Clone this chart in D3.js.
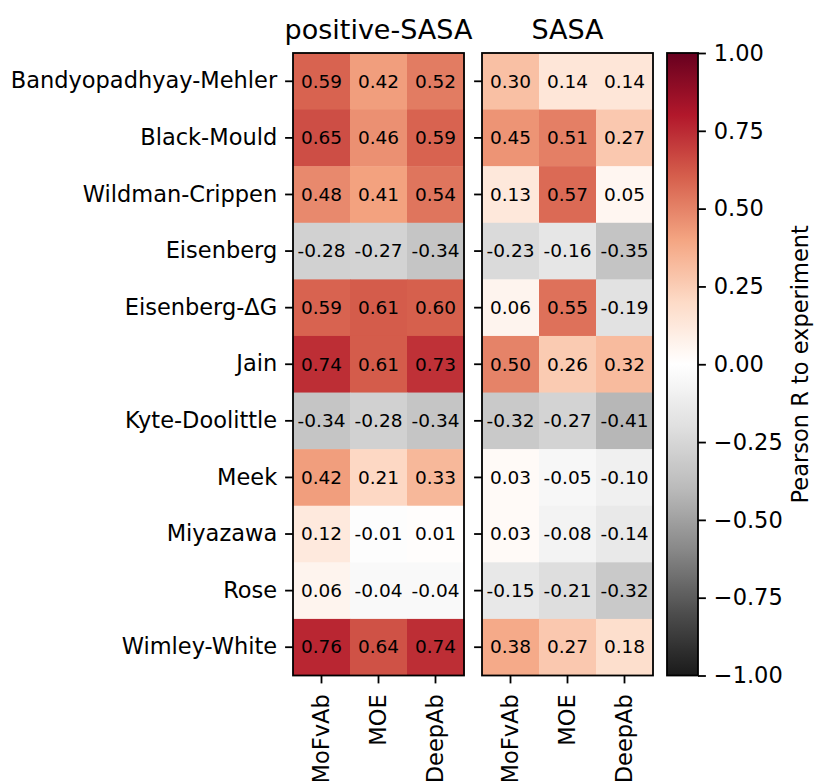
<!DOCTYPE html>
<html>
<head>
<meta charset="utf-8">
<script src="https://cdn.jsdelivr.net/npm/d3@7"></script>
<style>
  body { margin: 0; background: #fff; }
  svg text { font-family: "DejaVu Sans", sans-serif; fill: #000; }
</style>
</head>
<body>
<svg id="chart" width="814" height="781"></svg>
<script>
// Hydrophobicity scales (rows) and structure sources (columns)
const scales = ["Bandyopadhyay-Mehler", "Black-Mould", "Wildman-Crippen", "Eisenberg",
  "Eisenberg-ΔG", "Jain", "Kyte-Doolittle", "Meek", "Miyazawa", "Rose", "Wimley-White"];
const methods = ["MoFvAb", "MOE", "DeepAb"];
const panelTitles = ["positive-SASA", "SASA"];

// Pearson R for each scale, one triple per row (MoFvAb, MOE, DeepAb)
const positiveSasaR = [
  [0.59, 0.42, 0.52], [0.65, 0.46, 0.59], [0.48, 0.41, 0.54], [-0.28, -0.27, -0.34],
  [0.59, 0.61, 0.60], [0.74, 0.61, 0.73], [-0.34, -0.28, -0.34], [0.42, 0.21, 0.33],
  [0.12, -0.01, 0.01], [0.06, -0.04, -0.04], [0.76, 0.64, 0.74]
];
const sasaR = [
  [0.30, 0.14, 0.14], [0.45, 0.51, 0.27], [0.13, 0.57, 0.05], [-0.23, -0.16, -0.35],
  [0.06, 0.55, -0.19], [0.50, 0.26, 0.32], [-0.32, -0.27, -0.41], [0.03, -0.05, -0.10],
  [0.03, -0.08, -0.14], [-0.15, -0.21, -0.32], [0.38, 0.27, 0.18]
];
const colorbarTicks = [1.0, 0.75, 0.5, 0.25, 0.0, -0.25, -0.5, -0.75, -1.0];

// Reversed red-grey diverging palette
const rdgyStops = ["#1a1a1a", "#4d4d4d", "#878787", "#bababa", "#e0e0e0", "#ffffff",
  "#fddbc7", "#f4a582", "#d6604d", "#b2182b", "#67001f"];
const color = d3.scaleLinear()
  .domain(d3.range(rdgyStops.length).map(i => -1 + 2 * i / (rdgyStops.length - 1)))
  .range(rdgyStops)
  .interpolate(d3.interpolateRgb)
  .clamp(true);

const svg = d3.select("#chart");
const plotTop = 53, plotBottom = 675.5;
const panelX = [[293, 464], [482, 653]];
const tickLen = 7.9, tickPad = 7.9, lineW = 1.8;
const labelSize = 22.5, cellSize = 18.5, titleSize = 27;

const y = d3.scaleBand().domain(scales).range([plotTop, plotBottom]);

[positiveSasaR, sasaR].forEach((matrix, p) => {
  const x = d3.scaleBand().domain(methods).range(panelX[p]);
  const g = svg.append("g");

  const cells = [];
  matrix.forEach((row, i) => row.forEach((v, j) => cells.push({ s: scales[i], m: methods[j], v })));

  g.selectAll("rect.cell").data(cells).enter().append("rect")
    .attr("class", "cell")
    .attr("x", d => x(d.m))
    .attr("y", d => y(d.s))
    .attr("width", x.bandwidth() + 0.5)
    .attr("height", y.bandwidth() + 0.5)
    .attr("fill", d => color(d.v));

  g.selectAll("text.val").data(cells).enter().append("text")
    .attr("class", "val")
    .attr("x", d => x(d.m) + x.bandwidth() / 2)
    .attr("y", d => y(d.s) + y.bandwidth() / 2)
    .attr("text-anchor", "middle")
    .attr("dy", "0.34em")
    .attr("font-size", cellSize)
    .text(d => d.v.toFixed(2));

  // frame
  g.append("rect")
    .attr("x", panelX[p][0]).attr("y", plotTop)
    .attr("width", panelX[p][1] - panelX[p][0]).attr("height", plotBottom - plotTop)
    .attr("fill", "none").attr("stroke", "#000").attr("stroke-width", lineW);

  // left axis (labels only on the first panel)
  const yAxis = d3.axisLeft(y).tickSize(tickLen).tickPadding(tickPad)
    .tickFormat(p === 0 ? (d => d) : (() => ""));
  const ya = g.append("g").attr("transform", `translate(${panelX[p][0]},0)`).call(yAxis);
  ya.select(".domain").remove();
  ya.selectAll(".tick line").attr("stroke", "#000").attr("stroke-width", lineW);
  ya.selectAll(".tick text").attr("font-size", labelSize).attr("font-family", "DejaVu Sans");

  // bottom axis with rotated method names
  const xAxis = d3.axisBottom(x).tickSize(tickLen).tickPadding(tickPad);
  const xa = g.append("g").attr("transform", `translate(0,${plotBottom})`).call(xAxis);
  xa.select(".domain").remove();
  xa.selectAll(".tick line").attr("stroke", "#000").attr("stroke-width", lineW);
  xa.selectAll(".tick text")
    .attr("font-size", labelSize).attr("font-family", "DejaVu Sans")
    .attr("transform", "rotate(-90)")
    .attr("text-anchor", "end")
    .attr("x", -(tickLen + tickPad + 3)).attr("y", 0).attr("dy", "0.35em");

  g.append("text")
    .attr("x", (panelX[p][0] + panelX[p][1]) / 2)
    .attr("y", 39)
    .attr("text-anchor", "middle")
    .attr("font-size", titleSize)
    .text(panelTitles[p]);
});

// Colorbar
const cbX = 667, cbW = 31;
const cbScale = d3.scaleLinear().domain([-1, 1]).range([plotBottom, plotTop]);
const defs = svg.append("defs");
const grad = defs.append("linearGradient").attr("id", "cbgrad")
  .attr("x1", 0).attr("y1", 1).attr("x2", 0).attr("y2", 0);
d3.range(0, 1.0001, 0.02).forEach(t => {
  grad.append("stop").attr("offset", t).attr("stop-color", color(-1 + 2 * t));
});
svg.append("rect")
  .attr("x", cbX).attr("y", plotTop).attr("width", cbW).attr("height", plotBottom - plotTop)
  .attr("fill", "url(#cbgrad)").attr("stroke", "#000").attr("stroke-width", lineW);

const cbAxis = d3.axisRight(cbScale).tickValues(colorbarTicks).tickSize(tickLen).tickPadding(tickPad)
  .tickFormat(d => d3.format(".2f")(d).replace("-", "\u2212"));
const ca = svg.append("g").attr("transform", `translate(${cbX + cbW},0)`).call(cbAxis);
ca.select(".domain").remove();
ca.selectAll(".tick line").attr("stroke", "#000").attr("stroke-width", lineW);
ca.selectAll(".tick text").attr("font-size", labelSize).attr("font-family", "DejaVu Sans");

svg.append("text")
  .attr("transform", `translate(800,${(plotTop + plotBottom) / 2}) rotate(-90)`)
  .attr("text-anchor", "middle")
  .attr("dominant-baseline", "central")
  .attr("font-size", labelSize)
  .text("Pearson R to experiment");
</script>
</body>
</html>
